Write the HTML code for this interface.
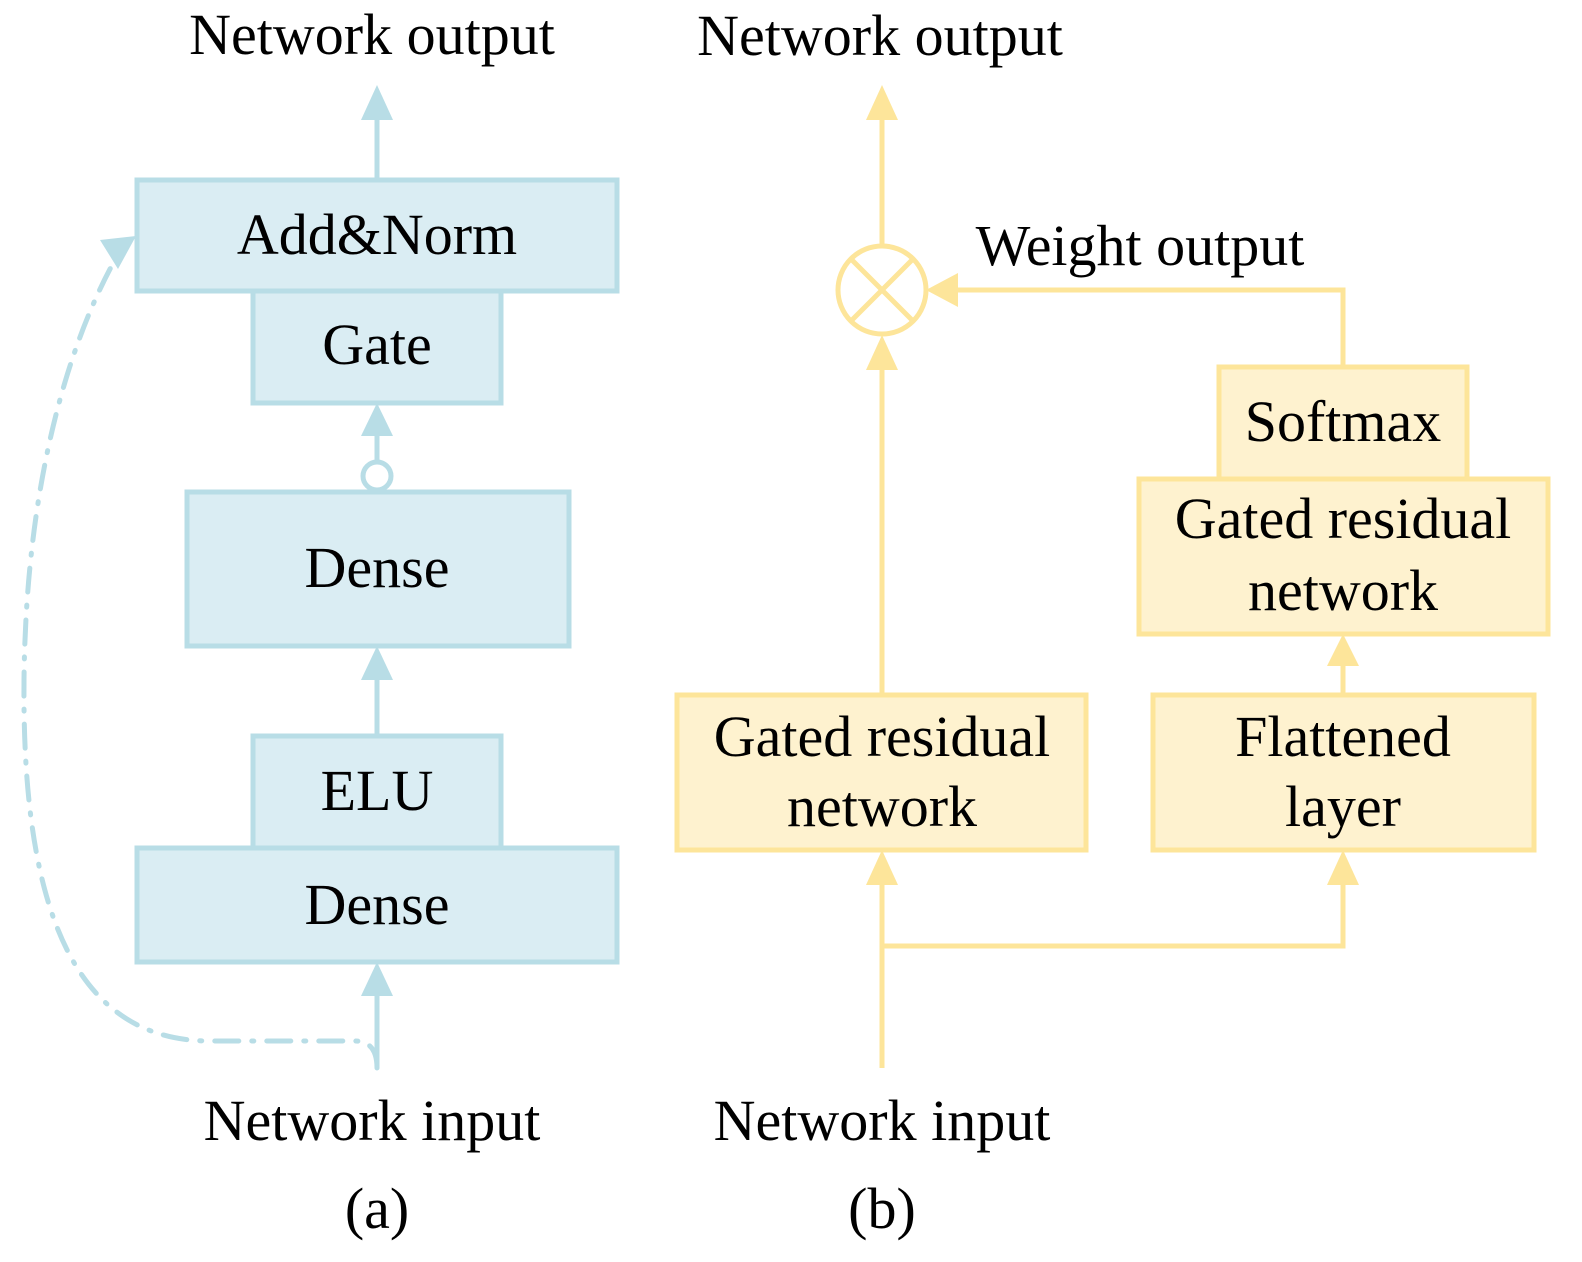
<!DOCTYPE html>
<html><head><meta charset="utf-8"><style>
html,body{margin:0;padding:0;background:#fff}
svg{display:block}
text{font-family:"Liberation Serif",serif;font-size:58px;fill:#000;text-anchor:middle}
</style></head><body>
<svg width="1582" height="1262" viewBox="0 0 1582 1262" xmlns="http://www.w3.org/2000/svg">
<g stroke="#b8dde6" stroke-width="5" fill="#daedf3">
<rect x="137" y="180" width="480" height="111"/>
<rect x="253" y="291" width="248" height="112"/>
<rect x="187" y="492" width="382" height="154"/>
<rect x="253" y="736" width="248" height="112"/>
<rect x="137" y="848" width="480" height="114"/>
</g>
<g stroke="#b8dde6" stroke-width="5" fill="none">
<line x1="377" y1="180" x2="377" y2="110"/>
<line x1="377" y1="461" x2="377" y2="430"/>
<circle cx="377" cy="476" r="14" fill="#fff"/>
<line x1="377" y1="736" x2="377" y2="670"/>
<line x1="377" y1="1068" x2="377" y2="990"/>
<path d="M377,1068 Q377,1041 355,1041 L210,1041 C70,1041 22,900 24,680 C26,480 70,340 116,258" stroke-dasharray="24,13,2,13" stroke-linecap="round"/>
</g>
<g fill="#b8dde6">
<polygon points="377,85 361,120 393,120"/>
<polygon points="377,403 361,436 393,436"/>
<polygon points="377,646 361,680 393,680"/>
<polygon points="377,962 361,996 393,996"/>
<polygon points="136,236 100,240 118,269"/>
</g>
<g stroke="#fde59a" stroke-width="5" fill="#fef2cf">
<rect x="677" y="695" width="409" height="155"/>
<rect x="1153" y="695" width="381" height="155"/>
<rect x="1139" y="479" width="409" height="155"/>
<rect x="1219" y="367" width="248" height="112"/>
</g>
<g stroke="#fde59a" stroke-width="5" fill="none">
<circle cx="882" cy="290" r="44"/>
<line x1="851" y1="259" x2="913" y2="321"/>
<line x1="913" y1="259" x2="851" y2="321"/>
<line x1="882" y1="246" x2="882" y2="110"/>
<line x1="882" y1="695" x2="882" y2="360"/>
<polyline points="1343,367 1343,290 950,290"/>
<line x1="882" y1="1068" x2="882" y2="875"/>
<polyline points="882,946 1343,946 1343,875"/>
<line x1="1343" y1="695" x2="1343" y2="660"/>
</g>
<g fill="#fde59a">
<polygon points="882,85 866,120 898,120"/>
<polygon points="882,335 866,370 898,370"/>
<polygon points="926,290 958,273 958,307"/>
<polygon points="882,850 866,885 898,885"/>
<polygon points="1343,850 1327,885 1359,885"/>
<polygon points="1343,634 1327,666 1359,666"/>
</g>
<text x="372" y="54">Network output</text>
<text x="880" y="55">Network output</text>
<text x="1140" y="265">Weight output</text>
<text x="377" y="254">Add&amp;Norm</text>
<text x="377" y="364">Gate</text>
<text x="377" y="587">Dense</text>
<text x="377" y="810">ELU</text>
<text x="377" y="924">Dense</text>
<text x="1343" y="441">Softmax</text>
<text x="1343" y="538">Gated residual</text>
<text x="1343" y="610">network</text>
<text x="882" y="756">Gated residual</text>
<text x="882" y="826">network</text>
<text x="1343" y="756">Flattened</text>
<text x="1343" y="826">layer</text>
<text x="372" y="1140">Network input</text>
<text x="882" y="1140">Network input</text>
<text x="377" y="1228">(a)</text>
<text x="882" y="1228">(b)</text>
</svg>
</body></html>
